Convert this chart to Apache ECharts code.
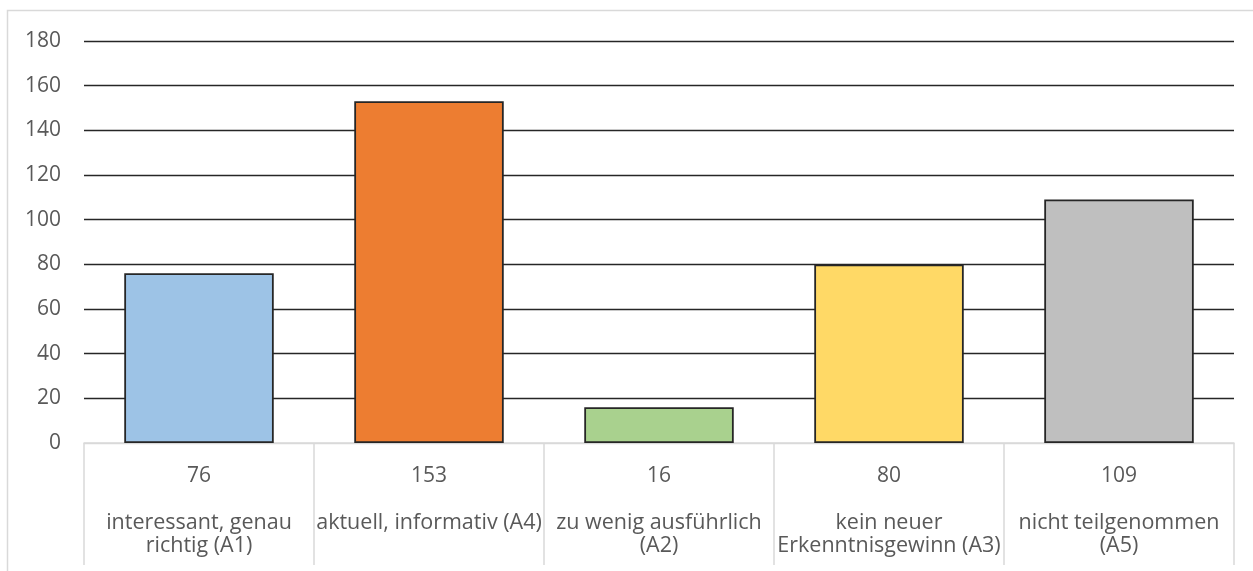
<!DOCTYPE html>
<html>
<head>
<meta charset="utf-8">
<script src="https://cdn.jsdelivr.net/npm/echarts@6/dist/echarts.min.js"></script>
<style>
html,body{margin:0;padding:0;background:#fff;}
#c{width:1253px;height:571px;}
</style>
</head>
<body>
<div id="c"></div>
<script>
const categoryLines = [
  ["interessant, genau", "richtig (A1)"],
  ["aktuell, informativ (A4)"],
  ["zu wenig ausführlich", "(A2)"],
  ["kein neuer", "Erkenntnisgewinn (A3)"],
  ["nicht teilgenommen", "(A5)"]
];
const values = [76, 153, 16, 80, 109];
const barColors = ["#9DC3E6", "#ED7D31", "#A9D18E", "#FFD966", "#BFBFBF"];
const yTicks = { min: 0, max: 180, interval: 20 };

const categories = categoryLines.map(l => l.join("\n"));
const FONT = "'Open Sans', sans-serif";

const chart = echarts.init(document.getElementById('c'), null, { renderer: 'canvas' });
chart.setOption({
  animation: false,
  backgroundColor: '#fff',
  textStyle: { fontFamily: FONT },
  graphic: [{
    type: 'rect',
    shape: { x: 7.5, y: 10.5, width: 1400, height: 700 },
    style: { fill: 'none', stroke: '#d9d9d9', lineWidth: 1.5 },
    silent: true
  }],
  grid: { left: 84, right: 19, top: 41, bottom: 128, containLabel: false },
  xAxis: {
    type: 'category',
    data: categories,
    axisLine: { show: true, lineStyle: { color: '#d9d9d9', width: 1.5 } },
    axisTick: { show: true, length: 122, lineStyle: { color: '#d9d9d9', width: 1.5 } },
    axisLabel: {
      interval: 0,
      margin: 22,
      formatter: function (name, idx) {
        const lines = categoryLines[idx].map(s => '{n|' + s + '}').join('\n');
        return '{v|' + values[idx] + '}\n{s| }\n' + lines;
      },
      rich: {
        v: { fontSize: 21, lineHeight: 22, color: '#595959', fontFamily: FONT, align: 'center' },
        s: { fontSize: 10, lineHeight: 24 },
        n: { fontSize: 21.5, lineHeight: 23, color: '#595959', fontFamily: FONT, align: 'center' }
      }
    }
  },
  yAxis: {
    type: 'value',
    min: yTicks.min, max: yTicks.max, interval: yTicks.interval,
    axisLine: { show: false },
    axisTick: { show: false },
    axisLabel: { color: '#595959', fontSize: 21, margin: 23, fontFamily: FONT },
    splitLine: { lineStyle: { color: ['#d9d9d9', '#262626', '#262626', '#262626', '#262626', '#262626', '#262626', '#262626', '#262626', '#262626'], width: 1.3 } }
  },
  series: [{
    type: 'bar',
    data: values.map((v, i) => ({ value: v, itemStyle: { color: barColors[i] } })),
    barWidth: '65%',
    itemStyle: { borderColor: '#262626', borderWidth: 1.8 }
  }]
});
</script>
</body>
</html>
